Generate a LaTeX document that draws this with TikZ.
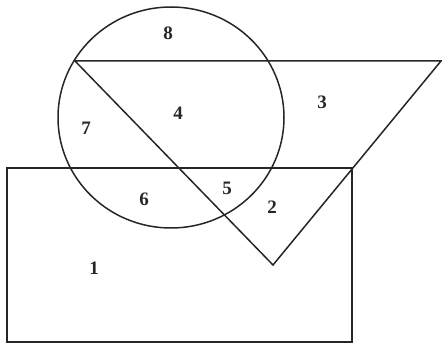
\documentclass[tikz,border=0pt]{standalone}
\usepackage{fontspec}
\setmainfont{Liberation Serif}
\begin{document}
\begin{tikzpicture}[x=1pt,y=-1pt,
  shape line/.style={draw=black!85,line width=1.5pt,line join=miter},
  region/.style={font=\fontsize{19}{21}\selectfont\bfseries,text=black!85,inner sep=0pt}]
\useasboundingbox (0,0) rectangle (442,344);
% rectangle
\coordinate (r1) at (7,168);
\coordinate (r2) at (352,342);
\draw[shape line] (r1) rectangle (r2);
% circle
\coordinate (c) at (171,117.5);
\draw[shape line] (c) ellipse [x radius=113, y radius=110.5];
% triangle
\coordinate (t1) at (75,61);
\coordinate (t2) at (441,61);
\coordinate (t3) at (273,265);
\draw[shape line] (t1) -- (t2) -- (t3) -- cycle;
% labels
\node[region] (n8) at (168,33) {8};
\node[region] (n7) at (86,128) {7};
\node[region] (n4) at (178,113) {4};
\node[region] (n3) at (322,102) {3};
\node[region] (n6) at (144,199) {6};
\node[region] (n5) at (227,188) {5};
\node[region] (n2) at (272,207) {2};
\node[region] (n1) at (94,268) {1};
\end{tikzpicture}
\end{document}
